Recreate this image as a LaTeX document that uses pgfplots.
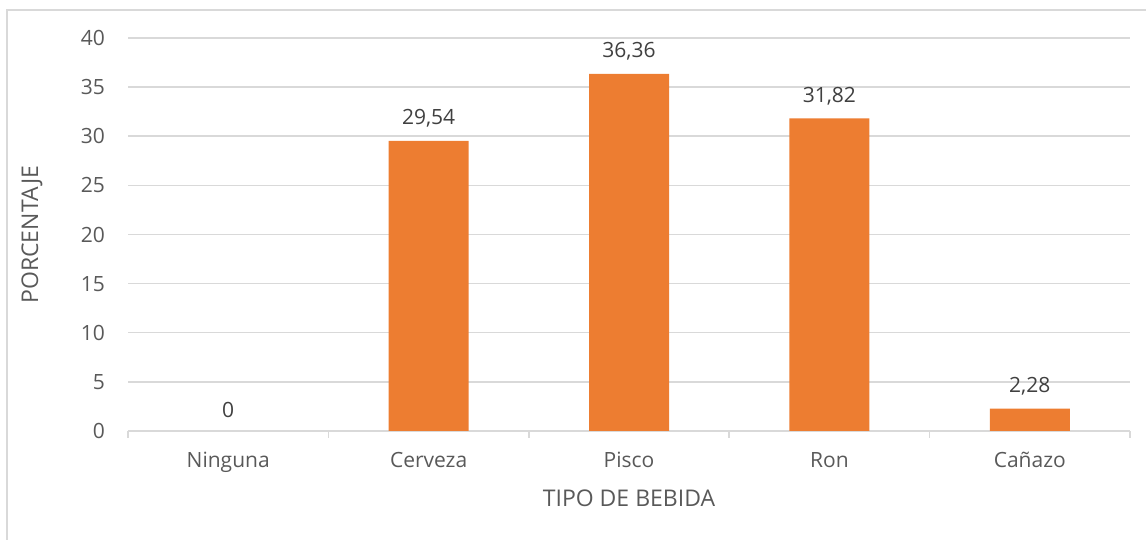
\documentclass[border=0pt]{standalone}
\usepackage{fontspec}
\setmainfont{Open Sans}
\usepackage{pgfplots}
\pgfplotsset{compat=1.18}
\definecolor{barorange}{RGB}{237,125,49}
\definecolor{gridgray}{RGB}{217,217,217}
\definecolor{txtgray}{RGB}{89,89,89}
\definecolor{lblgray}{RGB}{64,64,64}
\pgfplotstableread{
x y lab
1 29.54 29,54
2 36.36 36,36
3 31.82 31,82
4 2.28 2,28
}\datatable
\pgfplotstableread{
x y lab
0 0 0
}\zerotable
\begin{document}
\begin{tikzpicture}[x=1pt,y=1pt]
\path[use as bounding box] (0,0) rectangle (573,270);
\draw[gridgray, line width=0.75pt] (3.5,0) -- (3.5,265) -- (573,265);
\begin{axis}[
  at={(64pt,54.5pt)}, anchor=south west,
  scale only axis, width=501pt, height=196.5pt,
  xmin=-0.5, xmax=4.5, ymin=0, ymax=40,
  ybar, bar width=40pt, bar shift=0pt,
  ytick={0,5,...,40},
  xtick={0,1,2,3,4},
  xticklabels={Ninguna,Cerveza,Pisco,Ron,Cañazo},
  minor xtick={-0.5,0.5,1.5,2.5,3.5,4.5},
  axis x line*=bottom, axis y line*=left,
  y axis line style={draw=none},
  x axis line style={gridgray, line width=0.75pt},
  ymajorgrids, grid style={gridgray, line width=0.75pt},
  major tick length=0pt, minor tick length=3.5pt,
  xtick align=outside,
  minor tick style={gridgray, line width=0.75pt},
  tick label style={font=\fontsize{10.5}{12}\selectfont, text=txtgray},
  /pgf/number format/assume math mode=true,
  yticklabel style={xshift=-8pt},
  xticklabel style={yshift=-7pt},
  xlabel={TIPO DE BEBIDA}, ylabel={PORCENTAJE},
  label style={font=\fontsize{11.5}{13}\selectfont, text=txtgray},
  xlabel style={at={(axis description cs:0.5,-0.1705)}, anchor=center},
  ylabel style={at={(axis description cs:-0.0958,0.5)}, anchor=center},
  nodes near coords style={font=\fontsize{10.5}{12}\selectfont, text=lblgray, yshift=3pt},
  clip=false,
]
\addplot[fill=barorange, draw=none,
  nodes near coords, point meta=explicit symbolic]
  table[x=x, y=y, meta=lab] {\datatable};
\addplot[fill=none, draw=none,
  nodes near coords, point meta=explicit symbolic]
  table[x=x, y=y, meta=lab] {\zerotable};
\end{axis}
\end{tikzpicture}
\end{document}
